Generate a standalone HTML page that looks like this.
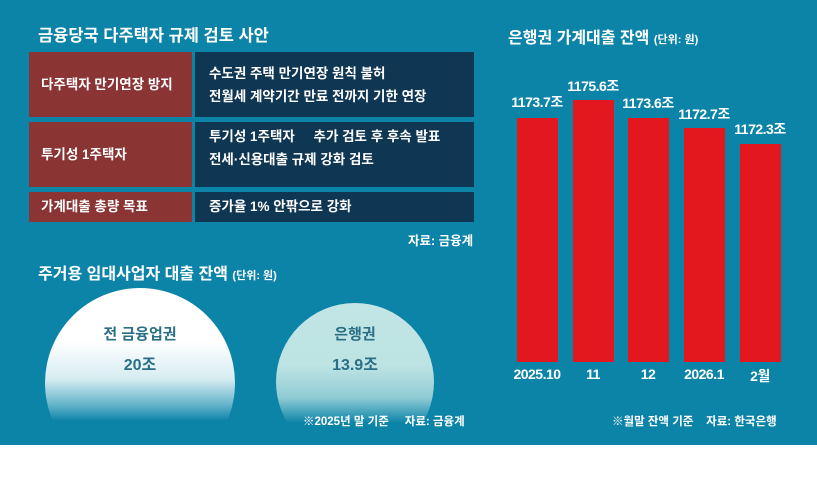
<!DOCTYPE html>
<html><head><meta charset="utf-8"><style>
body{margin:0;width:817px;height:477px;background:#fff;font-family:"Liberation Sans","Noto Sans CJK KR",sans-serif;overflow:hidden}
#bg{position:absolute;left:0;top:0;width:817px;height:445px;background:#0c84a8;overflow:hidden}
.t{position:absolute;color:#fff;font-weight:bold;white-space:nowrap}
.l{position:absolute;left:29px;width:163px;background:#8a3434;color:#fff;font-size:13.5px;font-weight:bold}
.r{position:absolute;left:195px;width:279px;background:#0f3652;color:#fff;font-size:13.5px;font-weight:bold;line-height:23px}
.bar{position:absolute;width:41px;background:#e3171e;bottom:83px}
.v{position:absolute;color:#fff;font-weight:bold;font-size:14px;width:80px;text-align:center;letter-spacing:-0.5px}
</style></head><body>
<div id="bg">
<div class="t" style="left:38px;top:22px;font-size:16.5px">금융당국 다주택자 규제 검토 사안</div>
<div class="l" style="top:52px;height:65px;line-height:65px;padding-left:12px;box-sizing:border-box">다주택자 만기연장 방지</div>
<div class="r" style="top:52px;height:65px;padding:10px 0 0 14px;box-sizing:border-box">수도권 주택 만기연장 원칙 불허<br>전월세 계약기간 만료 전까지 기한 연장</div>
<div class="l" style="top:122px;height:65px;line-height:65px;padding-left:12px;box-sizing:border-box">투기성 1주택자</div>
<div class="r" style="top:122px;height:65px;padding:3px 0 0 14px;box-sizing:border-box">투기성 1주택자 &nbsp;&nbsp;&nbsp; 추가 검토 후 후속 발표<br>전세·신용대출 규제 강화 검토</div>
<div class="l" style="top:192px;height:30px;line-height:30px;padding-left:12px;box-sizing:border-box">가계대출 총량 목표</div>
<div class="r" style="top:192px;height:30px;line-height:30px;padding-left:14px;box-sizing:border-box">증가율 1% 안팎으로 강화</div>
<div class="t" style="left:408px;top:230px;font-size:12.5px">자료: 금융계</div>
<div class="t" style="left:38px;top:260px;font-size:16px">주거용 임대사업자 대출 잔액 <span style="font-size:11px">(단위: 원)</span></div>
<div style="position:absolute;left:45px;top:288px;width:190px;height:190px;border-radius:50%;background:linear-gradient(#fff 0%,#fff 28%,#d6ecf1 48%,#5fb0c8 62%,#0c84a8 70%)"></div>
<div style="position:absolute;left:276px;top:303px;width:158px;height:158px;border-radius:50%;background:linear-gradient(#c2e5e5 0%,#bde3e3 40%,#8fcbd4 60%,#0c84a8 76%)"></div>
<div class="t" style="left:90px;top:323px;width:100px;text-align:center;color:#2a6f86;font-size:15px">전 금융업권</div>
<div class="t" style="left:90px;top:351px;width:100px;text-align:center;color:#2a6f86;font-size:16px">20조</div>
<div class="t" style="left:305px;top:323px;width:100px;text-align:center;color:#2a6f86;font-size:15px">은행권</div>
<div class="t" style="left:305px;top:351px;width:100px;text-align:center;color:#2a6f86;font-size:16px">13.9조</div>
<div class="t" style="left:303px;top:413px;font-size:11.5px">※2025년 말 기준 &nbsp;&nbsp;&nbsp; 자료: 금융계</div>
<div class="t" style="left:508px;top:24px;font-size:16px">은행권 가계대출 잔액 <span style="font-size:11px">(단위: 원)</span></div>
<div class="bar" style="left:517px;top:118px"></div>
<div class="bar" style="left:573px;top:100px"></div>
<div class="bar" style="left:628px;top:118px"></div>
<div class="bar" style="left:684px;top:128px"></div>
<div class="bar" style="left:740px;top:144px"></div>
<div class="v" style="left:497px;top:92px">1173.7조</div>
<div class="v" style="left:553px;top:76px">1175.6조</div>
<div class="v" style="left:608px;top:93px">1173.6조</div>
<div class="v" style="left:664px;top:104px">1172.7조</div>
<div class="v" style="left:720px;top:119px">1172.3조</div>
<div class="v" style="left:497px;top:366px">2025.10</div>
<div class="v" style="left:553px;top:366px">11</div>
<div class="v" style="left:608px;top:366px">12</div>
<div class="v" style="left:664px;top:366px">2026.1</div>
<div class="v" style="left:720px;top:366px">2월</div>
<div class="t" style="left:612px;top:413px;font-size:11.5px">※월말 잔액 기준 &nbsp;&nbsp; 자료: 한국은행</div>
</div>
</body></html>
